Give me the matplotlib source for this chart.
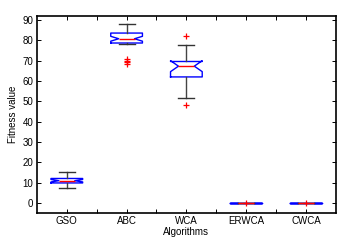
"""Boxplot of fitness values per algorithm."""
import matplotlib
matplotlib.use("Agg")
import matplotlib.pyplot as plt

algorithms = ["GSO", "ABC", "WCA", "ERWCA", "CWCA"]
q1 = [9.8, 78.7, 62.0, 0.0, 0.0]
medians = [10.9, 80.8, 67.3, 0.0, 0.0]
q3 = [12.0, 83.6, 69.6, 0.0, 0.0]
whisker_low = [7.3, 78.2, 51.6, 0.0, 0.0]
whisker_high = [15.0, 88.2, 77.8, 0.0, 0.0]
notch_low = [10.3, 79.6, 64.6, 0.0, 0.0]
notch_high = [11.5, 82.0, 70.0, 0.0, 0.0]
fliers = [[], [71.0, 70.0, 69.5, 68.3], [82.3, 48.3], [0.0], [0.0]]

plt.rcParams["font.family"] = ["Liberation Sans", "DejaVu Sans"]
plt.rcParams["font.size"] = 7

stats = []
for i, name in enumerate(algorithms):
    stats.append({
        "label": name, "q1": q1[i], "med": medians[i], "q3": q3[i],
        "whislo": whisker_low[i], "whishi": whisker_high[i],
        "cilo": notch_low[i], "cihi": notch_high[i], "fliers": fliers[i],
    })

fig = plt.figure(figsize=(3.55, 2.5), dpi=100)
ax = fig.add_axes([0.104, 0.148, 0.842, 0.788])
ax.bxp(stats, positions=range(1, 6), widths=0.53, shownotches=True,
       boxprops=dict(color="blue", linewidth=1.0),
       medianprops=dict(color="red", linewidth=1.0),
       whiskerprops=dict(color="#444444", linewidth=1.0),
       capprops=dict(color="#333333", linewidth=1.0),
       flierprops=dict(marker="+", markeredgecolor="red", markersize=5,
                       markeredgewidth=0.9))

ax.set_xlim(0.5, 5.5)
ax.set_ylim(-5, 92)
ax.set_yticks(range(0, 91, 10))
ax.set_xticks(range(1, 6))
ax.set_xticklabels(algorithms)
ax.set_xticks([1.5, 2.5, 3.5, 4.5], minor=True)
ax.tick_params(which="both", direction="in", top=True, right=True,
               length=3, width=0.7, pad=2.5)
for s in ax.spines.values():
    s.set_linewidth(1.2)

ax.set_xlabel("Algorithms", labelpad=0.5)
ax.set_ylabel("Fitness value", labelpad=3)

fig.savefig("out.png", dpi=100)
